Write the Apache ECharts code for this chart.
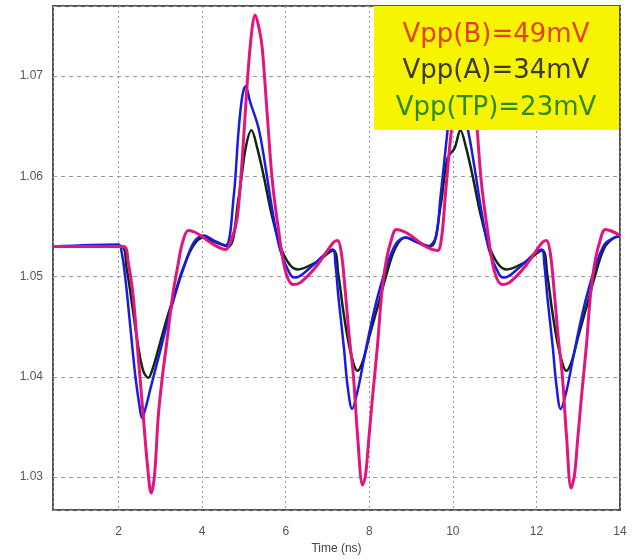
<!DOCTYPE html>
<html>
<head>
<meta charset="utf-8">
<script src="https://cdn.jsdelivr.net/npm/echarts@6/dist/echarts.min.js"></script>
<style>html,body{margin:0;padding:0;background:#fff;}#c{width:641px;height:560px;}</style>
</head>
<body>
<div id="c"></div>
<script>
// Time axis (ns) and voltage (V) values
const timeB = [0.43,2.11,2.23,2.35,2.47,2.59,2.69,2.78,2.86,2.95,3.05,3.14,3.29,3.41,3.53,3.67,3.84,4.03,4.27,4.56,4.72,4.84,4.96,5.08,5.18,5.27,5.37,5.44,5.56,5.68,5.83,5.99,6.18,6.35,6.71,7.14,7.24,7.33,7.43,7.52,7.62,7.72,7.84,7.91,7.98,8.08,8.20,8.29,8.39,8.51,8.65,8.82,8.99,9.39,9.63,9.73,9.82,9.92,10.01,10.08,10.18,10.27,10.37,10.44,10.56,10.68,10.83,10.99,11.18,11.35,11.71,12.14,12.24,12.33,12.43,12.52,12.62,12.72,12.83,12.91,12.98,13.08,13.20,13.29,13.39,13.51,13.65,13.82,14.0];
const voltB = [1.0530,1.0530,1.0514,1.0480,1.0420,1.0361,1.0312,1.0284,1.0302,1.0361,1.0401,1.0430,1.0480,1.0509,1.0534,1.0546,1.0544,1.0539,1.0532,1.0527,1.0539,1.0559,1.0618,1.0694,1.0742,1.0761,1.0746,1.0727,1.0660,1.0595,1.0546,1.0506,1.0492,1.0494,1.0509,1.0534,1.0536,1.0524,1.0483,1.0440,1.0401,1.0341,1.0292,1.0302,1.0334,1.0381,1.0433,1.0480,1.0512,1.0534,1.0547,1.0545,1.0541,1.0529,1.0526,1.0539,1.0581,1.0628,1.0664,1.0694,1.0742,1.0761,1.0746,1.0727,1.0660,1.0595,1.0546,1.0506,1.0492,1.0494,1.0509,1.0534,1.0536,1.0524,1.0483,1.0440,1.0401,1.0341,1.0289,1.0302,1.0334,1.0381,1.0433,1.0480,1.0512,1.0534,1.0547,1.0545,1.0541];

const timeA = [0.43,2.00,2.07,2.16,2.28,2.40,2.50,2.56,2.66,2.76,2.96,3.16,3.36,3.56,3.80,4.04,4.28,4.56,4.75,4.87,4.96,5.04,5.15,5.35,5.51,5.68,5.87,6.11,6.23,6.59,7.12,7.19,7.26,7.39,7.48,7.59,7.72,7.86,8.03,8.20,8.39,8.63,8.87,9.11,9.39,9.59,9.70,9.87,9.96,10.04,10.15,10.35,10.51,10.68,10.87,11.11,11.23,11.59,12.12,12.19,12.26,12.39,12.48,12.58,12.72,12.86,13.03,13.20,13.39,13.63,13.87,14.0];
const voltA = [1.0530,1.0532,1.0525,1.0499,1.0450,1.0401,1.0371,1.0359,1.0371,1.0388,1.0420,1.0453,1.0483,1.0509,1.0534,1.0541,1.0536,1.0531,1.0578,1.0645,1.0680,1.0690,1.0674,1.0648,1.0611,1.0566,1.0526,1.0502,1.0499,1.0509,1.0527,1.0512,1.0480,1.0430,1.0391,1.0368,1.0386,1.0415,1.0450,1.0480,1.0507,1.0532,1.0539,1.0535,1.0530,1.0539,1.0578,1.0645,1.0680,1.0690,1.0674,1.0648,1.0611,1.0566,1.0526,1.0502,1.0499,1.0509,1.0527,1.0512,1.0480,1.0430,1.0391,1.0368,1.0386,1.0415,1.0450,1.0480,1.0507,1.0532,1.0539,1.0540];

const timeTP = [0.43,2.07,2.19,2.33,2.47,2.59,2.71,2.83,3.00,3.17,3.36,3.55,3.79,4.03,4.27,4.63,4.87,5.04,5.18,5.32,5.47,5.68,5.95,6.28,6.71,7.14,7.26,7.38,7.55,7.72,7.84,8.00,8.20,8.39,8.63,8.87,9.11,9.47,9.70,9.87,10.04,10.18,10.32,10.47,10.68,10.95,11.28,11.71,12.14,12.26,12.38,12.55,12.72,12.84,13.00,13.20,13.39,13.63,13.87,14.0];
const voltTP = [1.0530,1.0530,1.0509,1.0470,1.0430,1.0406,1.0399,1.0410,1.0435,1.0460,1.0485,1.0509,1.0531,1.0539,1.0535,1.0530,1.0578,1.0628,1.0646,1.0628,1.0601,1.0559,1.0522,1.0507,1.0514,1.0526,1.0502,1.0465,1.0425,1.0406,1.0415,1.0440,1.0470,1.0499,1.0529,1.0539,1.0535,1.0530,1.0569,1.0618,1.0628,1.0646,1.0628,1.0601,1.0559,1.0522,1.0507,1.0514,1.0526,1.0502,1.0465,1.0425,1.0406,1.0415,1.0440,1.0470,1.0499,1.0529,1.0539,1.0540];

const annotations = ['Vpp(B)=49mV', 'Vpp(A)=34mV', 'Vpp(TP)=23mV'];
const annotationColors = ['#e5401e', '#3a3a30', '#2f8a22'];

function zip(xs, ys) { return xs.map((x, i) => [x, ys[i]]); }

const chart = echarts.init(document.getElementById('c'), null, {renderer: 'canvas'});
const labelStyle = {color: '#555', fontSize: 12, fontFamily: 'Liberation Sans, Arial, sans-serif'};
chart.setOption({
  animation: false,
  backgroundColor: '#fff',
  grid: {left: 53, right: 21, top: 6, bottom: 45, show: true, borderColor: '#555', borderWidth: 2, containLabel: false, backgroundColor: 'transparent'},
  xAxis: {
    type: 'value', min: 0.43, max: 14, splitNumber: 7,
    name: 'Time (ns)', nameLocation: 'middle', nameGap: 31,
    nameTextStyle: {color: '#444', fontSize: 12, fontFamily: 'Liberation Sans, Arial, sans-serif'},
    axisLine: {show: false}, axisTick: {show: false},
    axisLabel: Object.assign({margin: 16, showMinLabel: false, formatter: v => String(Math.round(v))}, labelStyle),
    splitLine: {show: true, lineStyle: {color: '#999', type: [2, 3], width: 1}}
  },
  yAxis: {
    type: 'value', min: 1.0267, max: 1.0770, splitNumber: 5,
    axisLine: {show: false}, axisTick: {show: false},
    axisLabel: Object.assign({margin: 10, showMinLabel: false, showMaxLabel: false, formatter: v => v.toFixed(2)}, labelStyle),
    splitLine: {show: true, lineStyle: {color: '#999', type: [4, 4], width: 1}}
  },
  series: [
    {name: 'TP', type: 'line', data: zip(timeTP, voltTP), showSymbol: false, smooth: 0.35, lineStyle: {color: '#102810', width: 2.5}, z: 2},
    {name: 'A', type: 'line', data: zip(timeA, voltA), showSymbol: false, smooth: 0.35, lineStyle: {color: '#1a1ae6', width: 2.5}, z: 3},
    {name: 'B', type: 'line', data: zip(timeB, voltB), showSymbol: false, smooth: 0.35, lineStyle: {color: '#e2157c', width: 3}, z: 4}
  ],
  graphic: [
    {type: 'rect', z: 100, left: 374, top: 6, shape: {width: 245, height: 124}, style: {fill: '#f6f400'}},
    ...annotations.map((t, i) => ({
      type: 'text', z: 101, x: 496, y: 35 + i * 36.5,
      style: {text: t, fill: annotationColors[i], font: '26px "DejaVu Sans", sans-serif', align: 'center', verticalAlign: 'middle'}
    }))
  ]
});
</script>
</body>
</html>
